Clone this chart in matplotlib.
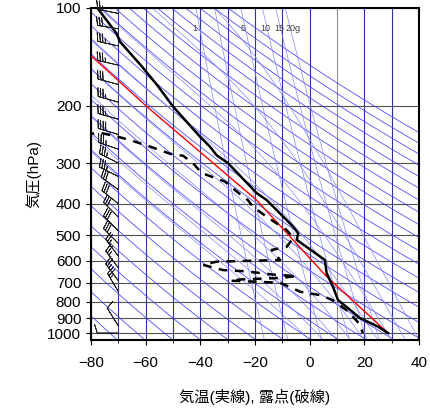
import numpy as np
import matplotlib
matplotlib.use("Agg")
import matplotlib.pyplot as plt

plt.rcParams['font.family'] = ['Liberation Sans', 'Noto Sans CJK JP', 'DejaVu Sans']

# ---------------- Data ----------------
temp_p = [101, 120, 127, 151, 174, 201, 249, 267, 284, 300, 371, 390, 471, 493, 517,
          596, 653, 720, 792, 831, 899, 955, 1000]
temp_t = [-77.3, -70.6, -69.4, -61.5, -55.5, -50.0, -40.1, -36.5, -34.0, -29.9, -19.4,
          -15.7, -6.0, -4.2, -4.7, 5.6, 6.2, 8.5, 10.4, 13.5, 18.4, 25.0, 28.7]

dew_p = [245, 242, 250, 255, 267, 281, 285, 300, 322, 342, 371, 390, 409, 439, 482, 510,
         543, 555, 596, 603, 617, 640, 646, 661, 668, 677, 684, 690, 700, 746, 764, 792,
         850, 932, 1000]
dew_t = [-82, -76.7, -69.4, -65.7, -58.4, -51.0, -46.3, -42.7, -39.5, -31.0, -26.0, -22.6,
         -20.7, -15.7, -8.4, -6.0, -8.4, -13.9, -10.8, -34.0, -39.0, -31.7, -23.0, -13.3,
         -4.7, -10.8, -25.5, -29.0, -10.8, -3.5, 3.8, 8.5, 13.5, 18.0, 19.5]

red_p = [141, 201, 390, 670, 1000]
red_t = [-79.7, -59.6, -19.4, 6.2, 28.7]

barb_p = [104, 116, 131, 150, 172, 195, 220, 245, 272, 300, 330,
          362, 400, 440, 485, 530, 580, 630, 690, 745, 950, 1000]
barb_u = [25, 30, 35, 35, 30, 35, 35, 40, 35, 30, 30,
          25, 25, 20, 20, 20, 15, 15, 15, 12, 5, 8]
barb_v = [-5, -5, -8, -8, -8, -10, -10, -12, -12, -15, -15,
          -18, -20, -20, -20, -20, -20, -20, -20, -20, -8, 0]

mix_ratios = [1, 2, 5, 10, 15, 20]
mix_labels = ["1", "5", "10", "15", "20g"]
mix_label_t = [-42, -24.5, -16.3, -11.2, -6]

x_ticks = [-80, -60, -40, -20, 0, 20, 40]
p_ticks = [100, 200, 300, 400, 500, 600, 700, 800, 900, 1000]

# ---------------- Figure ----------------
fig = plt.figure(figsize=(4.31, 4.08), dpi=100)
ax = fig.add_axes([0.2111, 0.1667, 0.761, 0.814])
ax.set_yscale('log')
ax.set_xlim(-80, 40)
ax.set_ylim(1050, 100)

p = np.logspace(np.log10(100), np.log10(1050), 200)

# isotherms
for t in range(-80, 41, 10):
    c = '#909090' if t == 10 else '#3030a0'
    ax.axvline(t, color=c, lw=0.8, zorder=1)
# isobars
for pp in p_ticks:
    ax.axhline(pp, color='#505050', lw=0.8, zorder=1)

# dry adiabats
for th in range(200, 480, 10):
    T = th * (p / 1000.0) ** 0.286 - 273.15
    ax.plot(T, p, color='#4040ff', lw=0.55, zorder=1)


# moist adiabats (pseudo, simple integration)
def esat(tc):
    return 6.112 * np.exp(17.67 * tc / (tc + 243.5))


def moist(t0):
    ps = np.linspace(1050, 100, 400)
    Ts = [t0]
    for i in range(1, len(ps)):
        tk = Ts[-1] + 273.15
        rs = 0.622 * esat(Ts[-1]) / (ps[i - 1] - esat(Ts[-1]))
        num = 287 * tk + 2.5e6 * rs
        den = 1004 + 2.5e6 ** 2 * rs * 0.622 / (287 * tk ** 2)
        dT = num / den / ps[i - 1] * (ps[i] - ps[i - 1])
        Ts.append(Ts[-1] + dT)
    return np.array(Ts), ps


for t0 in range(0, 45, 5):
    T, ps = moist(t0)
    ax.plot(T, ps, color='#8888ff', lw=0.5, zorder=1)

# mixing ratio lines
for w in mix_ratios:
    e = w * p / (622.0 + w)
    le = np.log(e / 6.112)
    Td = 243.5 * le / (17.67 - le)
    ax.plot(Td, p, color='#8888ff', lw=0.5, zorder=1)
for lab, tx in zip(mix_labels, mix_label_t):
    ax.text(tx, 116, lab, fontsize=6.5, color='#404040', ha='center', va='center', zorder=3)

# profiles
ax.plot(red_t, red_p, color='red', lw=1.0, zorder=4)
ax.plot(dew_t, dew_p, color='black', lw=1.8, ls=(0, (3.5, 3)), zorder=5)
ax.plot(temp_t, temp_p, color='black', lw=1.8, zorder=5)

# wind barbs
ax.barbs([-70] * len(barb_p), barb_p, barb_u, barb_v, length=5.5, lw=0.6,
         color='#202020', zorder=6, clip_on=False)

ax.set_xticks(x_ticks)
ax.set_xticks(range(-80, 41, 10), minor=True)
ax.set_yticks(p_ticks)
ax.set_yticks([], minor=True)
ax.set_yticklabels([str(v) for v in p_ticks])
ax.tick_params(labelsize=11, direction='out')
ax.tick_params(axis='x', pad=8)
ax.set_xlabel('気温(実線), 露点(破線)', fontsize=11, labelpad=14)
ax.set_ylabel('気圧(hPa)', fontsize=11)
for s in ax.spines.values():
    s.set_linewidth(1.5)

plt.savefig('out.png', dpi=100)
